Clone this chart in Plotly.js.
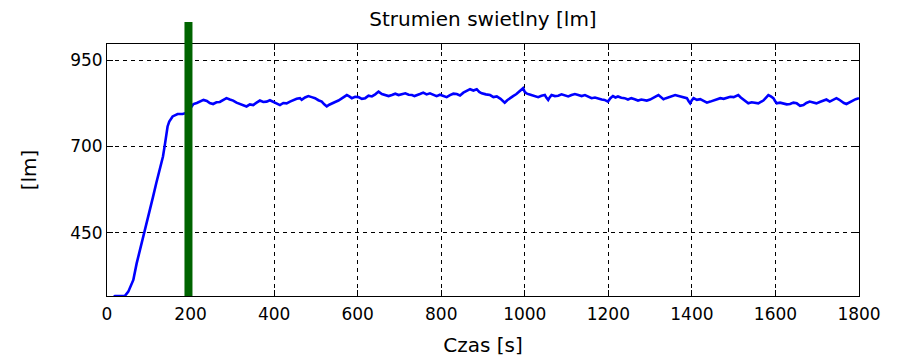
<!DOCTYPE html>
<html>
<head>
<meta charset="utf-8">
<script src="https://cdn.plot.ly/plotly-3.0.1.min.js"></script>
<style>
  html, body { margin: 0; padding: 0; background: #fff; }
  #chart { width: 903px; height: 360px; }
</style>
</head>
<body>
<div id="chart"></div>
<script>
// Luminous flux measurement over time: warm-up ramp, then a noisy plateau
const timeSec = [
  0, 10, 19, 30, 43, 51, 63, 71, 79, 87, 94, 102, 110, 118, 126, 134, 139, 145, 149, 157,
  169, 181, 192, 200, 204, 207, 215, 223, 231, 239, 246, 254, 262, 270, 278, 286, 294, 302,
  310, 318, 326, 334, 342, 350, 358, 366, 374, 382, 390, 398, 406, 414, 422, 430, 438, 446,
  454, 462, 466, 474, 482, 490, 498, 506, 514, 520, 526, 532, 538, 546, 554, 564, 574, 580,
  586, 594, 602, 610, 618, 626, 634, 642, 650, 658, 666, 674, 682, 690, 698, 706, 714, 722,
  730, 736, 741, 749, 757, 765, 773, 781, 789, 797, 805, 813, 821, 829, 837, 845, 853, 861,
  869, 877, 885, 891, 897, 907, 917, 925, 933, 942, 952, 958, 964, 972, 980, 988, 996, 1000,
  1004, 1010, 1016, 1024, 1032, 1040, 1048, 1052, 1056, 1060, 1064, 1072, 1080, 1088, 1096,
  1104, 1112, 1120, 1128, 1136, 1144, 1152, 1160, 1168, 1176, 1184, 1191, 1195, 1199, 1205,
  1211, 1217, 1223, 1231, 1239, 1247, 1255, 1263, 1271, 1279, 1287, 1292, 1300, 1308, 1314,
  1320, 1326, 1332, 1338, 1344, 1352, 1360, 1366, 1372, 1380, 1388, 1392, 1396, 1400, 1404,
  1412, 1420, 1428, 1436, 1444, 1452, 1460, 1468, 1476, 1484, 1492, 1500, 1506, 1511, 1517,
  1523, 1529, 1535, 1543, 1551, 1559, 1565, 1571, 1577, 1583, 1589, 1595, 1599, 1603, 1611,
  1619, 1627, 1635, 1643, 1651, 1659, 1667, 1674, 1682, 1690, 1698, 1706, 1714, 1722, 1730,
  1738, 1746, 1752, 1758, 1764, 1770, 1778, 1786, 1792, 1800
];
const fluxLm = [
  250, 258, 266, 266, 267, 279, 313, 361, 400, 438, 467, 515, 553, 594, 631, 671, 709, 758, 772, 787,
  794, 794, 798, 812, 818, 823, 826, 830, 835, 832, 826, 823, 828, 829, 834, 840, 836, 833,
  827, 823, 819, 816, 822, 820, 827, 833, 829, 830, 834, 830, 824, 820, 826, 825, 830, 835,
  838, 840, 835, 842, 846, 843, 840, 834, 830, 822, 816, 821, 825, 829, 833, 841, 849, 845,
  840, 844, 843, 838, 840, 847, 845, 851, 859, 852, 849, 846, 849, 853, 849, 851, 854, 850,
  849, 846, 849, 852, 856, 851, 854, 849, 846, 850, 846, 843, 849, 853, 852, 848, 856, 860,
  866, 862, 866, 858, 854, 851, 849, 843, 845, 838, 827, 834, 840, 846, 852, 860, 869, 858,
  854, 851, 849, 846, 843, 847, 849, 841, 835, 843, 849, 846, 847, 851, 847,
  845, 849, 852, 849, 846, 849, 844, 840, 842, 838, 836, 835, 832, 830, 840,
  846, 842, 845, 841, 840, 836, 840, 837, 833, 836, 835, 833, 836, 840, 845,
  849, 842, 837, 840, 843, 846, 849, 847, 845, 842, 840, 832, 825, 834, 840,
  835, 837, 832, 827, 830, 833, 837, 840, 838, 840, 844, 843, 846, 849, 842,
  837, 830, 825, 828, 827, 825, 829, 833, 841, 849, 845, 840, 832, 825, 827,
  825, 822, 823, 827, 825, 818, 820, 826, 830, 828, 825, 829, 833, 836, 830,
  835, 840, 836, 830, 826, 823, 829, 833, 837, 840
];

// Switching moment, drawn as a thick vertical bar
const markerTime = 195;

const xTicks = [0, 200, 400, 600, 800, 1000, 1200, 1400, 1600, 1800];
const yTicks = [450, 700, 950];

const titleText = 'Strumien swietlny [lm]';
const xTitleText = 'Czas [s]';
const yTitleText = '[lm]';

const fontFamily = '"DejaVu Sans", "Liberation Sans", Arial, sans-serif';

const axisCommon = {
  showline: true,
  linecolor: '#000',
  linewidth: 1,
  mirror: 'ticks',
  ticks: 'inside',
  ticklen: 6,
  tickcolor: '#000',
  tickwidth: 1,
  showgrid: true,
  gridcolor: '#000',
  gridwidth: 1,
  griddash: '4px,4px',
  zeroline: false,
  tickfont: { family: fontFamily, size: 17, color: '#000' }
};

const data = [{
  type: 'scatter',
  mode: 'lines',
  x: timeSec,
  y: fluxLm,
  line: { color: '#0000ff', width: 2.6, shape: 'linear' },
  hoverinfo: 'x+y'
}];

const layout = {
  width: 903,
  height: 360,
  paper_bgcolor: '#fff',
  plot_bgcolor: '#fff',
  margin: { l: 107, r: 44, t: 44, b: 64 },
  showlegend: false,
  title: {
    text: titleText,
    font: { family: fontFamily, size: 20, color: '#000' },
    x: 0.5, xref: 'paper', xanchor: 'center',
    y: 1 - 19 / 360, yref: 'container', yanchor: 'middle'
  },
  xaxis: Object.assign({}, axisCommon, {
    range: [0, 1800],
    tickvals: xTicks,
    ticktext: xTicks.map(String),
    ticklabelstandoff: 3,
    title: { text: xTitleText, font: { family: fontFamily, size: 20, color: '#000' }, standoff: 14 }
  }),
  yaxis: Object.assign({}, axisCommon, {
    range: [266.5, 997],
    tickvals: yTicks,
    ticktext: yTicks.map(String),
    title: { text: yTitleText, font: { family: fontFamily, size: 20, color: '#000' }, standoff: 28 }
  }),
  shapes: [{
    type: 'line',
    xref: 'x', yref: 'paper',
    x0: markerTime, x1: markerTime,
    y0: 0, y1: 1.087,
    line: { color: '#006400', width: 8 },
    layer: 'above'
  }]
};

Plotly.newPlot('chart', data, layout, { staticPlot: true, displayModeBar: false });
</script>
</body>
</html>
